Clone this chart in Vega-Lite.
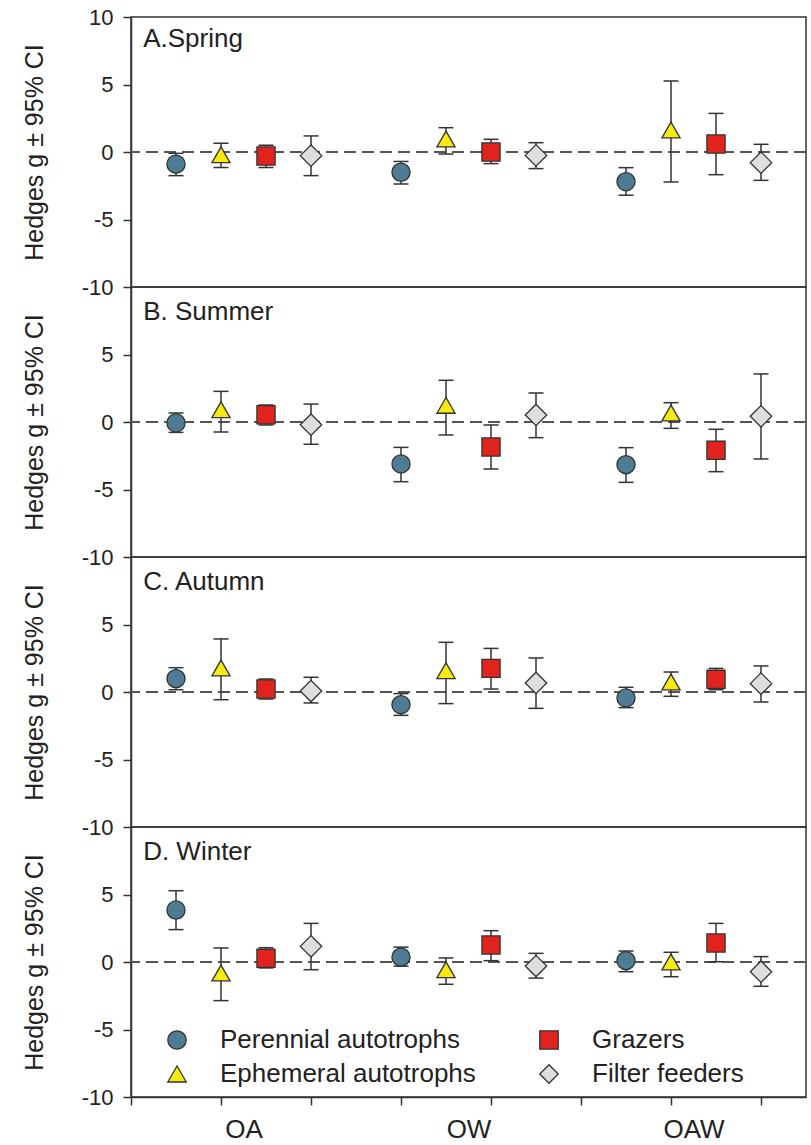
{
  "$schema": "https://vega.github.io/schema/vega-lite/v6.json",
  "padding": {"left": 21, "top": 5, "right": 5, "bottom": 5},
  "bounds": "flush",
  "spacing": 0,
  "background": "white",
  "config": {
    "font": "Liberation Sans",
    "view": {"stroke": "#333", "strokeWidth": 1.5},
    "axis": {"domainColor": "#333", "domainWidth": 1.5, "tickColor": "#333", "tickWidth": 1.5, "tickSize": 8, "labelFont": "Liberation Sans", "labelFontSize": 22, "labelColor": "#222", "titleFont": "Liberation Sans", "titleFontSize": 25, "titleFontWeight": "normal", "titleColor": "#222", "grid": false, "labelPadding": 10, "titlePadding": 34}
  },
  "resolve": {"scale": {"x": "independent", "y": "independent", "fill": "independent", "shape": "independent", "stroke": "independent"}, "axis": {"x": "independent", "y": "independent"}, "legend": {"fill": "independent", "shape": "independent", "stroke": "independent"}},
  "datasets": {
    "d": [
      {"season": "A", "treatment": "OA", "group": "Perennial autotrophs", "x": 1, "g": -0.9, "lo": -1.75, "hi": -0.1},
      {"season": "A", "treatment": "OA", "group": "Ephemeral autotrophs", "x": 2, "g": -0.2, "lo": -1.15, "hi": 0.65},
      {"season": "A", "treatment": "OA", "group": "Grazers", "x": 3, "g": -0.3, "lo": -1.15, "hi": 0.5},
      {"season": "A", "treatment": "OA", "group": "Filter feeders", "x": 4, "g": -0.27, "lo": -1.75, "hi": 1.19},
      {"season": "A", "treatment": "OW", "group": "Perennial autotrophs", "x": 6, "g": -1.5, "lo": -2.37, "hi": -0.7},
      {"season": "A", "treatment": "OW", "group": "Ephemeral autotrophs", "x": 7, "g": 0.96, "lo": -0.15, "hi": 1.8},
      {"season": "A", "treatment": "OW", "group": "Grazers", "x": 8, "g": 0.0, "lo": -0.86, "hi": 0.94},
      {"season": "A", "treatment": "OW", "group": "Filter feeders", "x": 9, "g": -0.25, "lo": -1.23, "hi": 0.69},
      {"season": "A", "treatment": "OAW", "group": "Perennial autotrophs", "x": 11, "g": -2.2, "lo": -3.2, "hi": -1.16},
      {"season": "A", "treatment": "OAW", "group": "Ephemeral autotrophs", "x": 12, "g": 1.63, "lo": -2.22, "hi": 5.26},
      {"season": "A", "treatment": "OAW", "group": "Grazers", "x": 13, "g": 0.59, "lo": -1.68, "hi": 2.86},
      {"season": "A", "treatment": "OAW", "group": "Filter feeders", "x": 14, "g": -0.79, "lo": -2.1, "hi": 0.57},
      {"season": "B", "treatment": "OA", "group": "Perennial autotrophs", "x": 1, "g": -0.07, "lo": -0.77, "hi": 0.67},
      {"season": "B", "treatment": "OA", "group": "Ephemeral autotrophs", "x": 2, "g": 0.91, "lo": -0.74, "hi": 2.27},
      {"season": "B", "treatment": "OA", "group": "Grazers", "x": 3, "g": 0.54, "lo": -0.22, "hi": 1.26},
      {"season": "B", "treatment": "OA", "group": "Filter feeders", "x": 4, "g": -0.2, "lo": -1.65, "hi": 1.33},
      {"season": "B", "treatment": "OW", "group": "Perennial autotrophs", "x": 6, "g": -3.11, "lo": -4.42, "hi": -1.88},
      {"season": "B", "treatment": "OW", "group": "Ephemeral autotrophs", "x": 7, "g": 1.23, "lo": -0.96, "hi": 3.09},
      {"season": "B", "treatment": "OW", "group": "Grazers", "x": 8, "g": -1.85, "lo": -3.48, "hi": -0.22},
      {"season": "B", "treatment": "OW", "group": "Filter feeders", "x": 9, "g": 0.52, "lo": -1.16, "hi": 2.15},
      {"season": "B", "treatment": "OAW", "group": "Perennial autotrophs", "x": 11, "g": -3.16, "lo": -4.47, "hi": -1.9},
      {"season": "B", "treatment": "OAW", "group": "Ephemeral autotrophs", "x": 12, "g": 0.67, "lo": -0.47, "hi": 1.43},
      {"season": "B", "treatment": "OAW", "group": "Grazers", "x": 13, "g": -2.1, "lo": -3.68, "hi": -0.54},
      {"season": "B", "treatment": "OAW", "group": "Filter feeders", "x": 14, "g": 0.42, "lo": -2.74, "hi": 3.56},
      {"season": "C", "treatment": "OA", "group": "Perennial autotrophs", "x": 1, "g": 0.99, "lo": 0.17, "hi": 1.8},
      {"season": "C", "treatment": "OA", "group": "Ephemeral autotrophs", "x": 2, "g": 1.78, "lo": -0.57, "hi": 3.93},
      {"season": "C", "treatment": "OA", "group": "Grazers", "x": 3, "g": 0.22, "lo": -0.52, "hi": 0.96},
      {"season": "C", "treatment": "OA", "group": "Filter feeders", "x": 4, "g": 0.07, "lo": -0.81, "hi": 1.09},
      {"season": "C", "treatment": "OW", "group": "Perennial autotrophs", "x": 6, "g": -0.94, "lo": -1.73, "hi": -0.12},
      {"season": "C", "treatment": "OW", "group": "Ephemeral autotrophs", "x": 7, "g": 1.58, "lo": -0.86, "hi": 3.68},
      {"season": "C", "treatment": "OW", "group": "Grazers", "x": 8, "g": 1.75, "lo": 0.22, "hi": 3.23},
      {"season": "C", "treatment": "OW", "group": "Filter feeders", "x": 9, "g": 0.67, "lo": -1.21, "hi": 2.52},
      {"season": "C", "treatment": "OAW", "group": "Perennial autotrophs", "x": 11, "g": -0.44, "lo": -1.16, "hi": 0.35},
      {"season": "C", "treatment": "OAW", "group": "Ephemeral autotrophs", "x": 12, "g": 0.74, "lo": -0.32, "hi": 1.48},
      {"season": "C", "treatment": "OAW", "group": "Grazers", "x": 13, "g": 0.94, "lo": 0.17, "hi": 1.75},
      {"season": "C", "treatment": "OAW", "group": "Filter feeders", "x": 14, "g": 0.62, "lo": -0.74, "hi": 1.93},
      {"season": "D", "treatment": "OA", "group": "Perennial autotrophs", "x": 1, "g": 3.85, "lo": 2.4, "hi": 5.28},
      {"season": "D", "treatment": "OA", "group": "Ephemeral autotrophs", "x": 2, "g": -0.81, "lo": -2.86, "hi": 1.04},
      {"season": "D", "treatment": "OA", "group": "Grazers", "x": 3, "g": 0.27, "lo": -0.44, "hi": 1.06},
      {"season": "D", "treatment": "OA", "group": "Filter feeders", "x": 4, "g": 1.16, "lo": -0.57, "hi": 2.86},
      {"season": "D", "treatment": "OW", "group": "Perennial autotrophs", "x": 6, "g": 0.36, "lo": -0.31, "hi": 1.1},
      {"season": "D", "treatment": "OW", "group": "Ephemeral autotrophs", "x": 7, "g": -0.57, "lo": -1.65, "hi": 0.3},
      {"season": "D", "treatment": "OW", "group": "Grazers", "x": 8, "g": 1.26, "lo": 0.1, "hi": 2.32},
      {"season": "D", "treatment": "OW", "group": "Filter feeders", "x": 9, "g": -0.3, "lo": -1.19, "hi": 0.64},
      {"season": "D", "treatment": "OAW", "group": "Perennial autotrophs", "x": 11, "g": 0.1, "lo": -0.72, "hi": 0.81},
      {"season": "D", "treatment": "OAW", "group": "Ephemeral autotrophs", "x": 12, "g": 0.0, "lo": -1.09, "hi": 0.72},
      {"season": "D", "treatment": "OAW", "group": "Grazers", "x": 13, "g": 1.41, "lo": 0.02, "hi": 2.86},
      {"season": "D", "treatment": "OAW", "group": "Filter feeders", "x": 14, "g": -0.72, "lo": -1.8, "hi": 0.4}
    ]
  },
  "vconcat": [
    {
      "width": 675, "height": 270,
      "data": {"name": "d"},
      "transform": [{"filter": "datum.season == 'A'"}],
      "layer": [
        {"mark": {"type": "rule", "stroke": "#555", "strokeWidth": 1.5, "strokeDash": [12, 6]},
         "encoding": {"y": {"datum": 0, "type": "quantitative", "scale": {"domain": [-10, 10], "nice": false}, "axis": {"values": [-10, -5, 0, 5, 10], "labelExpr": "'' + datum.value", "title": "Hedges g ± 95% CI"}}}},
        {"mark": {"type": "rule", "stroke": "#333", "strokeWidth": 1.5},
         "encoding": {"x": {"field": "x", "type": "quantitative", "scale": {"domain": [0, 15], "nice": false}, "axis": null},
                      "y": {"field": "lo", "type": "quantitative", "title": "Hedges g ± 95% CI", "axis": {"values": [-10, -5, 0, 5, 10], "labelExpr": "'' + datum.value"}}, "y2": {"field": "hi"}}},
        {"mark": {"type": "tick", "orient": "horizontal", "size": 15, "thickness": 1.5, "color": "#333", "opacity": 1},
         "encoding": {"x": {"field": "x", "type": "quantitative", "axis": null}, "y": {"field": "lo", "type": "quantitative", "title": "Hedges g ± 95% CI", "axis": {"values": [-10, -5, 0, 5, 10], "labelExpr": "'' + datum.value"}}}},
        {"mark": {"type": "tick", "orient": "horizontal", "size": 15, "thickness": 1.5, "color": "#333", "opacity": 1},
         "encoding": {"x": {"field": "x", "type": "quantitative", "axis": null}, "y": {"field": "hi", "type": "quantitative", "title": "Hedges g ± 95% CI", "axis": {"values": [-10, -5, 0, 5, 10], "labelExpr": "'' + datum.value"}}}},
        {"mark": {"type": "point", "filled": true, "strokeWidth": 1.3, "opacity": 1},
         "encoding": {"x": {"field": "x", "type": "quantitative", "axis": null}, "y": {"field": "g", "type": "quantitative", "title": "Hedges g ± 95% CI", "axis": {"values": [-10, -5, 0, 5, 10], "labelExpr": "'' + datum.value"}},
                      "size": {"condition": {"test": "datum.group == 'Filter feeders'", "value": 460}, "value": 330},
                      "fill": {"field": "group", "type": "nominal", "scale": {"domain": ["Perennial autotrophs", "Ephemeral autotrophs", "Grazers", "Filter feeders"], "range": ["#4e7c95", "#f7ea10", "#e0241d", "#dedede"]}, "legend": null},
                      "stroke": {"field": "group", "type": "nominal", "scale": {"domain": ["Perennial autotrophs", "Ephemeral autotrophs", "Grazers", "Filter feeders"], "range": ["#333333", "#333333", "#333333", "#333333"]}, "legend": null},
                      "shape": {"field": "group", "type": "nominal", "scale": {"domain": ["Perennial autotrophs", "Ephemeral autotrophs", "Grazers", "Filter feeders"], "range": ["circle", "triangle-up", "square", "diamond"]}, "legend": null}}},
        {"data": {"values": [{"label": "A.Spring"}]},
         "mark": {"type": "text", "align": "left", "baseline": "alphabetic", "fontSize": 26, "color": "#222"},
         "encoding": {"x": {"datum": 0.27, "type": "quantitative", "axis": null}, "y": {"datum": 7.8, "type": "quantitative", "title": "Hedges g ± 95% CI", "axis": {"values": [-10, -5, 0, 5, 10], "labelExpr": "'' + datum.value"}}, "text": {"field": "label"}}}
      ]
    },
    {
      "width": 675, "height": 270,
      "data": {"name": "d"},
      "transform": [{"filter": "datum.season == 'B'"}],
      "layer": [
        {"mark": {"type": "rule", "stroke": "#555", "strokeWidth": 1.5, "strokeDash": [12, 6]},
         "encoding": {"y": {"datum": 0, "type": "quantitative", "scale": {"domain": [-10, 10], "nice": false}, "axis": {"values": [-10, -5, 0, 5], "labelExpr": "'' + datum.value", "title": "Hedges g ± 95% CI"}}}},
        {"mark": {"type": "rule", "stroke": "#333", "strokeWidth": 1.5},
         "encoding": {"x": {"field": "x", "type": "quantitative", "scale": {"domain": [0, 15], "nice": false}, "axis": null},
                      "y": {"field": "lo", "type": "quantitative", "title": "Hedges g ± 95% CI", "axis": {"values": [-10, -5, 0, 5], "labelExpr": "'' + datum.value"}}, "y2": {"field": "hi"}}},
        {"mark": {"type": "tick", "orient": "horizontal", "size": 15, "thickness": 1.5, "color": "#333", "opacity": 1},
         "encoding": {"x": {"field": "x", "type": "quantitative", "axis": null}, "y": {"field": "lo", "type": "quantitative", "title": "Hedges g ± 95% CI", "axis": {"values": [-10, -5, 0, 5], "labelExpr": "'' + datum.value"}}}},
        {"mark": {"type": "tick", "orient": "horizontal", "size": 15, "thickness": 1.5, "color": "#333", "opacity": 1},
         "encoding": {"x": {"field": "x", "type": "quantitative", "axis": null}, "y": {"field": "hi", "type": "quantitative", "title": "Hedges g ± 95% CI", "axis": {"values": [-10, -5, 0, 5], "labelExpr": "'' + datum.value"}}}},
        {"mark": {"type": "point", "filled": true, "strokeWidth": 1.3, "opacity": 1},
         "encoding": {"x": {"field": "x", "type": "quantitative", "axis": null}, "y": {"field": "g", "type": "quantitative", "title": "Hedges g ± 95% CI", "axis": {"values": [-10, -5, 0, 5], "labelExpr": "'' + datum.value"}},
                      "size": {"condition": {"test": "datum.group == 'Filter feeders'", "value": 460}, "value": 330},
                      "fill": {"field": "group", "type": "nominal", "scale": {"domain": ["Perennial autotrophs", "Ephemeral autotrophs", "Grazers", "Filter feeders"], "range": ["#4e7c95", "#f7ea10", "#e0241d", "#dedede"]}, "legend": null},
                      "stroke": {"field": "group", "type": "nominal", "scale": {"domain": ["Perennial autotrophs", "Ephemeral autotrophs", "Grazers", "Filter feeders"], "range": ["#333333", "#333333", "#333333", "#333333"]}, "legend": null},
                      "shape": {"field": "group", "type": "nominal", "scale": {"domain": ["Perennial autotrophs", "Ephemeral autotrophs", "Grazers", "Filter feeders"], "range": ["circle", "triangle-up", "square", "diamond"]}, "legend": null}}},
        {"data": {"values": [{"label": "B. Summer"}]},
         "mark": {"type": "text", "align": "left", "baseline": "alphabetic", "fontSize": 26, "color": "#222"},
         "encoding": {"x": {"datum": 0.27, "type": "quantitative", "axis": null}, "y": {"datum": 7.56, "type": "quantitative", "title": "Hedges g ± 95% CI", "axis": {"values": [-10, -5, 0, 5], "labelExpr": "'' + datum.value"}}, "text": {"field": "label"}}}
      ]
    },
    {
      "width": 675, "height": 270,
      "data": {"name": "d"},
      "transform": [{"filter": "datum.season == 'C'"}],
      "layer": [
        {"mark": {"type": "rule", "stroke": "#555", "strokeWidth": 1.5, "strokeDash": [12, 6]},
         "encoding": {"y": {"datum": 0, "type": "quantitative", "scale": {"domain": [-10, 10], "nice": false}, "axis": {"values": [-10, -5, 0, 5], "labelExpr": "'' + datum.value", "title": "Hedges g ± 95% CI"}}}},
        {"mark": {"type": "rule", "stroke": "#333", "strokeWidth": 1.5},
         "encoding": {"x": {"field": "x", "type": "quantitative", "scale": {"domain": [0, 15], "nice": false}, "axis": null},
                      "y": {"field": "lo", "type": "quantitative", "title": "Hedges g ± 95% CI", "axis": {"values": [-10, -5, 0, 5], "labelExpr": "'' + datum.value"}}, "y2": {"field": "hi"}}},
        {"mark": {"type": "tick", "orient": "horizontal", "size": 15, "thickness": 1.5, "color": "#333", "opacity": 1},
         "encoding": {"x": {"field": "x", "type": "quantitative", "axis": null}, "y": {"field": "lo", "type": "quantitative", "title": "Hedges g ± 95% CI", "axis": {"values": [-10, -5, 0, 5], "labelExpr": "'' + datum.value"}}}},
        {"mark": {"type": "tick", "orient": "horizontal", "size": 15, "thickness": 1.5, "color": "#333", "opacity": 1},
         "encoding": {"x": {"field": "x", "type": "quantitative", "axis": null}, "y": {"field": "hi", "type": "quantitative", "title": "Hedges g ± 95% CI", "axis": {"values": [-10, -5, 0, 5], "labelExpr": "'' + datum.value"}}}},
        {"mark": {"type": "point", "filled": true, "strokeWidth": 1.3, "opacity": 1},
         "encoding": {"x": {"field": "x", "type": "quantitative", "axis": null}, "y": {"field": "g", "type": "quantitative", "title": "Hedges g ± 95% CI", "axis": {"values": [-10, -5, 0, 5], "labelExpr": "'' + datum.value"}},
                      "size": {"condition": {"test": "datum.group == 'Filter feeders'", "value": 460}, "value": 330},
                      "fill": {"field": "group", "type": "nominal", "scale": {"domain": ["Perennial autotrophs", "Ephemeral autotrophs", "Grazers", "Filter feeders"], "range": ["#4e7c95", "#f7ea10", "#e0241d", "#dedede"]}, "legend": null},
                      "stroke": {"field": "group", "type": "nominal", "scale": {"domain": ["Perennial autotrophs", "Ephemeral autotrophs", "Grazers", "Filter feeders"], "range": ["#333333", "#333333", "#333333", "#333333"]}, "legend": null},
                      "shape": {"field": "group", "type": "nominal", "scale": {"domain": ["Perennial autotrophs", "Ephemeral autotrophs", "Grazers", "Filter feeders"], "range": ["circle", "triangle-up", "square", "diamond"]}, "legend": null}}},
        {"data": {"values": [{"label": "C. Autumn"}]},
         "mark": {"type": "text", "align": "left", "baseline": "alphabetic", "fontSize": 26, "color": "#222"},
         "encoding": {"x": {"datum": 0.27, "type": "quantitative", "axis": null}, "y": {"datum": 7.56, "type": "quantitative", "title": "Hedges g ± 95% CI", "axis": {"values": [-10, -5, 0, 5], "labelExpr": "'' + datum.value"}}, "text": {"field": "label"}}}
      ]
    },
    {
      "width": 675, "height": 270,
      "data": {"name": "d"},
      "transform": [{"filter": "datum.season == 'D'"}],
      "layer": [
        {"mark": {"type": "rule", "stroke": "#555", "strokeWidth": 1.5, "strokeDash": [12, 6]},
         "encoding": {"y": {"datum": 0, "type": "quantitative", "scale": {"domain": [-10, 10], "nice": false}, "axis": {"values": [-10, -5, 0, 5], "labelExpr": "'' + datum.value", "title": "Hedges g ± 95% CI"}}}},
        {"mark": {"type": "rule", "stroke": "#333", "strokeWidth": 1.5},
         "encoding": {"x": {"field": "x", "type": "quantitative", "scale": {"domain": [0, 15], "nice": false}, "title": null,
                            "axis": {"values": [0, 2, 2.5, 4, 6, 7.5, 8, 10, 12, 12.5, 14], "labelExpr": "datum.value == 2.5 ? 'OA' : datum.value == 7.5 ? 'OW' : datum.value == 12.5 ? 'OAW' : ''", "tickOpacity": {"condition": {"test": "datum.value == 2.5 || datum.value == 7.5 || datum.value == 12.5", "value": 0}, "value": 1}, "labelOverlap": false, "labelFontSize": 26, "labelPadding": 11, "labelFlush": false}},
                      "y": {"field": "lo", "type": "quantitative", "title": "Hedges g ± 95% CI", "axis": {"values": [-10, -5, 0, 5], "labelExpr": "'' + datum.value"}}, "y2": {"field": "hi"}}},
        {"mark": {"type": "tick", "orient": "horizontal", "size": 15, "thickness": 1.5, "color": "#333", "opacity": 1},
         "encoding": {"x": {"field": "x", "type": "quantitative", "title": null}, "y": {"field": "lo", "type": "quantitative", "title": "Hedges g ± 95% CI", "axis": {"values": [-10, -5, 0, 5], "labelExpr": "'' + datum.value"}}}},
        {"mark": {"type": "tick", "orient": "horizontal", "size": 15, "thickness": 1.5, "color": "#333", "opacity": 1},
         "encoding": {"x": {"field": "x", "type": "quantitative", "title": null}, "y": {"field": "hi", "type": "quantitative", "title": "Hedges g ± 95% CI", "axis": {"values": [-10, -5, 0, 5], "labelExpr": "'' + datum.value"}}}},
        {"mark": {"type": "point", "filled": true, "strokeWidth": 1.3, "opacity": 1},
         "encoding": {"x": {"field": "x", "type": "quantitative", "title": null}, "y": {"field": "g", "type": "quantitative", "title": "Hedges g ± 95% CI", "axis": {"values": [-10, -5, 0, 5], "labelExpr": "'' + datum.value"}},
                      "size": {"condition": {"test": "datum.group == 'Filter feeders'", "value": 460}, "value": 330},
                      "fill": {"field": "group", "type": "nominal", "scale": {"domain": ["Perennial autotrophs", "Ephemeral autotrophs", "Grazers", "Filter feeders"], "range": ["#4e7c95", "#f7ea10", "#e0241d", "#dedede"]},
                               "legend": {"title": null, "orient": "none", "legendX": 33, "legendY": 200, "columns": 2, "columnPadding": 60, "rowPadding": 8, "labelFontSize": 26, "labelFont": "Liberation Sans", "labelColor": "#222", "labelLimit": 0, "labelOffset": 30, "symbolSize": 340, "symbolStrokeWidth": 1.3, "padding": 0}},
                      "stroke": {"field": "group", "type": "nominal", "scale": {"domain": ["Perennial autotrophs", "Ephemeral autotrophs", "Grazers", "Filter feeders"], "range": ["#333333", "#333333", "#333333", "#333333"]},
                               "legend": {"title": null, "orient": "none", "legendX": 33, "legendY": 200, "columns": 2, "columnPadding": 60, "rowPadding": 8, "labelFontSize": 26, "labelFont": "Liberation Sans", "labelColor": "#222", "labelLimit": 0, "labelOffset": 30, "symbolSize": 340, "symbolStrokeWidth": 1.3, "padding": 0}},
                      "shape": {"field": "group", "type": "nominal", "scale": {"domain": ["Perennial autotrophs", "Ephemeral autotrophs", "Grazers", "Filter feeders"], "range": ["circle", "triangle-up", "square", "diamond"]},
                               "legend": {"title": null, "orient": "none", "legendX": 33, "legendY": 200, "columns": 2, "columnPadding": 60, "rowPadding": 8, "labelFontSize": 26, "labelFont": "Liberation Sans", "labelColor": "#222", "labelLimit": 0, "labelOffset": 30, "symbolSize": 340, "symbolStrokeWidth": 1.3, "padding": 0}}}},
        {"data": {"values": [{"label": "D. Winter"}]},
         "mark": {"type": "text", "align": "left", "baseline": "alphabetic", "fontSize": 26, "color": "#222"},
         "encoding": {"x": {"datum": 0.27, "type": "quantitative", "title": null}, "y": {"datum": 7.56, "type": "quantitative", "title": "Hedges g ± 95% CI", "axis": {"values": [-10, -5, 0, 5], "labelExpr": "'' + datum.value"}}, "text": {"field": "label"}}}
      ]
    }
  ]
}
